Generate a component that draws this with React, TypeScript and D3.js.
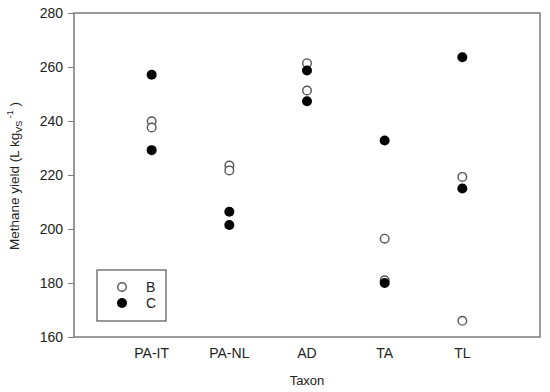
import React, { useRef, useEffect } from 'react';
import * as d3 from 'd3';

const taxa = ['PA-IT', 'PA-NL', 'AD', 'TA', 'TL'];
// two replicate values per taxon, per series
const seriesB = [
  [239.9, 237.6],
  [223.5, 221.7],
  [261.4, 251.3],
  [196.4, 181.0],
  [219.3, 166.0],
];
const seriesC = [
  [257.1, 229.2],
  [206.4, 201.5],
  [258.7, 247.3],
  [232.8, 180.0],
  [263.6, 215.0],
];
const yTicks = [160, 180, 200, 220, 240, 260, 280];

const App: React.FC = () => {
  const svgRef = useRef<SVGSVGElement>(null);

  useEffect(() => {
    const svgEl = svgRef.current;
    if (!svgEl) return;
    const svg = d3.select(svgEl);
    svg.selectAll('*').remove();

    const margin = { top: 13, right: 10, bottom: 55, left: 74 };
    const width = 550;
    const height = 392;
    const font = 'Liberation Sans, Arial, sans-serif';

    const x = d3.scaleLinear().domain([0, taxa.length + 1]).range([margin.left, width - margin.right]);
    const y = d3.scaleLinear().domain([160, 280]).range([height - margin.bottom, margin.top]);

    // frame
    svg
      .append('rect')
      .attr('x', margin.left)
      .attr('y', margin.top)
      .attr('width', width - margin.right - margin.left)
      .attr('height', height - margin.bottom - margin.top)
      .attr('fill', 'none')
      .attr('stroke', '#7a7a7a')
      .attr('stroke-width', 1.5);

    // y axis
    const yAxis = d3.axisLeft(y).tickValues(yTicks).tickSize(6).tickPadding(5);
    const gy = svg.append('g').attr('transform', `translate(${margin.left},0)`).call(yAxis);
    gy.select('.domain').remove();
    gy.selectAll('line').attr('stroke', '#7a7a7a');
    gy.selectAll('text').style('font-family', font).style('font-size', '14px').attr('fill', '#222');

    // x labels
    svg
      .selectAll('text.xlab')
      .data(taxa)
      .enter()
      .append('text')
      .attr('class', 'xlab')
      .attr('x', (_d, i) => x(i + 1))
      .attr('y', 358)
      .attr('text-anchor', 'middle')
      .style('font-family', font)
      .style('font-size', '14px')
      .attr('fill', '#222')
      .text((d) => d);

    // axis titles
    svg
      .append('text')
      .attr('x', (margin.left + width - margin.right) / 2)
      .attr('y', 385)
      .attr('text-anchor', 'middle')
      .style('font-family', font)
      .style('font-size', '13px')
      .attr('fill', '#222')
      .text('Taxon');

    const yl = svg
      .append('text')
      .attr('transform', `translate(19,${(margin.top + height - margin.bottom) / 2 + 1}) rotate(-90)`)
      .attr('text-anchor', 'middle')
      .style('font-family', font)
      .style('font-size', '13.5px')
      .attr('fill', '#222');
    yl.append('tspan').text('Methane yield (L kg');
    yl.append('tspan').attr('dy', 3).style('font-size', '9px').text('VS');
    yl.append('tspan').attr('dy', -9).style('font-size', '9px').text(' -1');
    yl.append('tspan').attr('dy', 6).text(' )');

    // points
    const flat = (arr: number[][]) =>
      arr.flatMap((vals, i) => vals.map((v) => ({ i, v })));

    svg
      .selectAll('circle.b')
      .data(flat(seriesB))
      .enter()
      .append('circle')
      .attr('class', 'b')
      .attr('cx', (d) => x(d.i + 1))
      .attr('cy', (d) => y(d.v))
      .attr('r', 4.3)
      .attr('fill', 'white')
      .attr('stroke', '#555')
      .attr('stroke-width', 1.4);

    svg
      .selectAll('circle.c')
      .data(flat(seriesC))
      .enter()
      .append('circle')
      .attr('class', 'c')
      .attr('cx', (d) => x(d.i + 1))
      .attr('cy', (d) => y(d.v))
      .attr('r', 5)
      .attr('fill', '#000');

    // legend
    const lg = svg.append('g');
    lg.append('rect')
      .attr('x', 97)
      .attr('y', 270)
      .attr('width', 69)
      .attr('height', 51)
      .attr('fill', 'white')
      .attr('stroke', '#555')
      .attr('stroke-width', 1.2);
    lg.append('circle').attr('cx', 122).attr('cy', 287).attr('r', 4.3)
      .attr('fill', 'white').attr('stroke', '#555').attr('stroke-width', 1.4);
    lg.append('circle').attr('cx', 122).attr('cy', 303).attr('r', 5).attr('fill', '#000');
    [['B', 292], ['C', 308]].forEach(([t, yy]) => {
      lg.append('text')
        .attr('x', 146)
        .attr('y', yy as number)
        .style('font-family', font)
        .style('font-size', '14px')
        .attr('fill', '#222')
        .text(t as string);
    });
  }, []);

  return (
    <svg
      ref={svgRef}
      width={550}
      height={392}
      style={{ position: 'absolute', left: 0, top: 0, background: 'white' }}
    />
  );
};

export default App;
